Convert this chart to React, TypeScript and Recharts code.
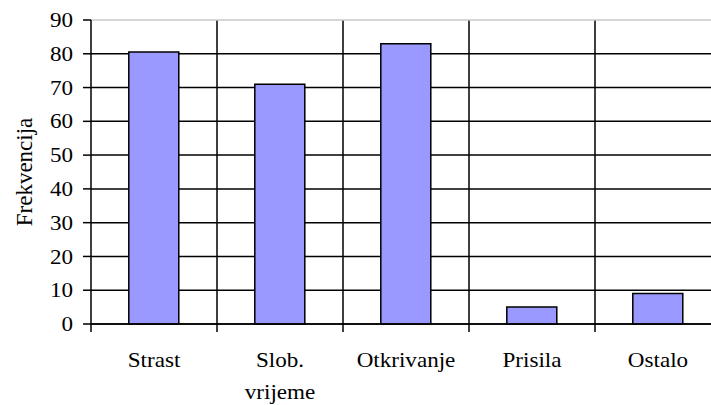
import { BarChart, Bar, XAxis, YAxis, CartesianGrid, ReferenceLine } from "recharts";

const categories = ["Strast", "Slob.\nvrijeme", "Otkrivanje", "Prisila", "Ostalo"];
const frekvencija = [80.5, 71, 83, 5, 9];
const yTicks = [0, 10, 20, 30, 40, 50, 60, 70, 80, 90];

const data = categories.map((name, i) => ({ name, value: frekvencija[i] }));

const CHART_W = 730;
const CHART_H = 405;
const Y_W = 91;
const M_RIGHT = 9;
const M_TOP = 20;
const X_H = 81;
const STEP = (CHART_W - Y_W - M_RIGHT) / categories.length;
const SERIF = '"Liberation Serif", "Times New Roman", serif';

function XTick({ x, y, payload }: any) {
  const lines = String(payload.value).split("\n");
  const bx = x - STEP / 2;
  return (
    <g>
      <line x1={bx} x2={bx} y1={y - 8} y2={y} stroke="#000" strokeWidth={1.5} />
      <g transform={`translate(${x},${y}) scale(1.1,1)`}>
        <text textAnchor="middle" fontFamily={SERIF} fontSize={21} fill="#000">
          {lines.map((l, i) => (
            <tspan key={i} x={0} y={35 + i * 32}>
              {l}
            </tspan>
          ))}
        </text>
      </g>
    </g>
  );
}

function YTick({ x, y, payload }: any) {
  return (
    <g transform={`translate(${x},${y}) scale(1.1,1)`}>
      <text x={0} y={0} dy="0.34em" textAnchor="end" fontFamily={SERIF} fontSize={21} fill="#000">
        {payload.value}
      </text>
    </g>
  );
}

export default function App() {
  return (
    <div style={{ position: "absolute", left: 0, top: 0, width: 711, height: 405, overflow: "hidden", background: "#fff" }}>
      <BarChart
        width={CHART_W}
        height={CHART_H}
        data={data}
        margin={{ top: M_TOP, right: M_RIGHT, left: 0, bottom: 0 }}
        barCategoryGap="30%"
      >
        <CartesianGrid
          stroke="#000"
          strokeWidth={1.5}
          horizontalCoordinatesGenerator={({ offset }: any) =>
            yTicks.filter((t) => t < 90).map((t) => offset.top + offset.height * (1 - t / 90))
          }
          verticalCoordinatesGenerator={({ offset }: any) =>
            categories.map((_, i) => offset.left + i * (offset.width / categories.length)).slice(1)
          }
        />
        <ReferenceLine y={90} stroke="#c8c8c8" strokeWidth={1.5} />
        <XAxis
          dataKey="name"
          height={X_H}
          interval={0}
          axisLine={{ stroke: "#000", strokeWidth: 1.5 }}
          tickLine={false}
          tickSize={8}
          tickMargin={0}
          tick={<XTick />}
        />
        <YAxis
          domain={[0, 90]}
          ticks={yTicks}
          width={Y_W}
          interval={0}
          axisLine={{ stroke: "#000", strokeWidth: 1.5 }}
          tickLine={{ stroke: "#000", strokeWidth: 1.5 }}
          tickSize={8}
          tickMargin={10}
          tick={<YTick />}
          label={{
            content: () => (
              <text
                x={24}
                y={172}
                transform="rotate(-90 24 172)"
                textAnchor="middle"
                dominantBaseline="central"
                fontFamily={SERIF}
                fontSize={23}
                fill="#000"
              >
                Frekvencija
              </text>
            ),
          }}
        />
        <Bar dataKey="value" fill="#9999ff" stroke="#000" strokeWidth={1.5} isAnimationActive={false} />
      </BarChart>
    </div>
  );
}
